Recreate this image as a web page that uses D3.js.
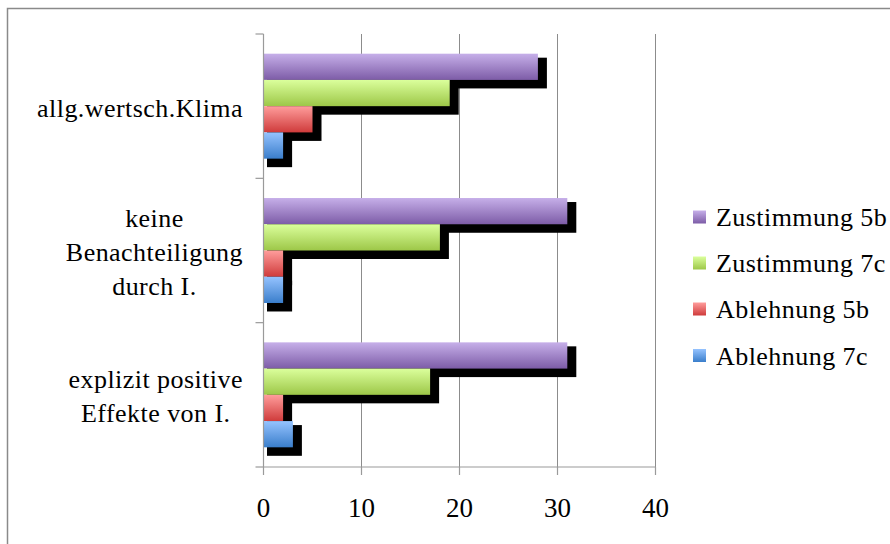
<!DOCTYPE html>
<html>
<head>
<meta charset="utf-8">
<script src="https://cdn.jsdelivr.net/npm/d3@7"></script>
<style>
  html, body { margin: 0; padding: 0; background: #fff; }
  svg { display: block; }
  text { font-family: "Liberation Serif", "DejaVu Serif", serif; fill: #000; }
</style>
</head>
<body>
<script>
// Categories (top to bottom) with their wrapped label lines
const categories = ["allg.wertsch.Klima", "keine Benachteiligung durch I.", "explizit positive Effekte von I."];
const categoryLines = [["allg.wertsch.Klima"], ["keine", "Benachteiligung", "durch I."], ["explizit positive", "Effekte von I."]];

const seriesNames = ["Zustimmung 5b", "Zustimmung 7c", "Ablehnung 5b", "Ablehnung 7c"];
const zustimmung5b = [28, 31, 31];
const zustimmung7c = [19, 18, 17];
const ablehnung5b  = [5, 2, 2];
const ablehnung7c  = [2, 2, 3];
const seriesValues = [zustimmung5b, zustimmung7c, ablehnung5b, ablehnung7c];

const xTicks = [0, 10, 20, 30, 40];

// Gradient stops (top, bottom) for each series
const seriesColors = [
  ["#c6afe9", "#7d5ca7"],
  ["#dbff9c", "#9dc748"],
  ["#ff9d9c", "#cf3b3b"],
  ["#95c3ff", "#3a7ecb"]
];

const W = 890, H = 544;
const FS = 26, LS = 0.45;
const svg = d3.select("body").append("svg").attr("width", W).attr("height", H);

const defs = svg.append("defs");
seriesColors.forEach((c, i) => {
  const g = defs.append("linearGradient").attr("id", "grad" + i)
    .attr("x1", 0).attr("y1", 0).attr("x2", 0).attr("y2", 1);
  g.append("stop").attr("offset", "0%").attr("stop-color", c[0]);
  g.append("stop").attr("offset", "100%").attr("stop-color", c[1]);
});

// Outer frame (top and left edges)
svg.append("path")
  .attr("d", `M7.5,${H} V8.5 H${W}`)
  .attr("fill", "none").attr("stroke", "#8a8a8a").attr("stroke-width", 1.5);

const x = d3.scaleLinear().domain([0, 40]).range([263.5, 655.5]);
const y = d3.scaleBand().domain(categories).range([34, 467]).paddingInner(0).paddingOuter(0);
const ySeries = d3.scaleBand().domain(d3.range(seriesNames.length))
  .range([0, y.bandwidth()]).paddingInner(0).paddingOuter(0.75);

// Vertical gridlines
svg.append("g").selectAll("line").data(xTicks.slice(1)).join("line")
  .attr("x1", d => x(d)).attr("x2", d => x(d))
  .attr("y1", 34).attr("y2", 467)
  .attr("stroke", "#8c8c8c").attr("stroke-width", 1);

// Bars data
const bars = [];
categories.forEach((cat, ci) => {
  seriesValues.forEach((vals, si) => {
    bars.push({ cat, si, v: vals[ci] });
  });
});

// Shadows first, then bars on top
svg.append("g").selectAll("rect").data(bars).join("rect")
  .attr("x", d => x(0) + 3.5)
  .attr("y", d => y(d.cat) + ySeries(d.si) + 4)
  .attr("width", d => x(d.v) - x(0) + 5.5)
  .attr("height", ySeries.bandwidth() + 4.5)
  .attr("fill", "#000");

svg.append("g").selectAll("rect").data(bars).join("rect")
  .attr("x", x(0))
  .attr("y", d => y(d.cat) + ySeries(d.si))
  .attr("width", d => x(d.v) - x(0))
  .attr("height", ySeries.bandwidth())
  .attr("fill", d => `url(#grad${d.si})`);

// Axes lines and ticks
const axisColor = "#9a9a9a";
const ax = svg.append("g").attr("stroke", axisColor).attr("stroke-width", 1.2);
ax.append("line").attr("x1", x(0)).attr("x2", x(0)).attr("y1", 34).attr("y2", 467);
ax.append("line").attr("x1", x(0)).attr("x2", x(40)).attr("y1", 467).attr("y2", 467);
const yEdges = categories.map(c => y(c)).concat([467]);
ax.selectAll(".yt").data(yEdges).join("line")
  .attr("x1", x(0) - 8).attr("x2", x(0)).attr("y1", d => d).attr("y2", d => d);
ax.selectAll(".xt").data(xTicks).join("line")
  .attr("x1", d => x(d)).attr("x2", d => x(d)).attr("y1", 467).attr("y2", 475);

// X tick labels
svg.append("g").selectAll("text").data(xTicks).join("text")
  .attr("x", d => x(d)).attr("y", 517)
  .attr("text-anchor", "middle").attr("font-size", 27)
  .text(d => d);

// Category labels: lines centered within a block right-aligned at x=243
const labelRight = 243, lineH = 34;
categories.forEach((cat, ci) => {
  const lines = categoryLines[ci];
  const g = svg.append("g");
  const cy = y(cat) + y.bandwidth() / 2;
  const ts = lines.map((ln, li) => g.append("text")
    .attr("y", cy + (li - (lines.length - 1) / 2) * lineH + 10.5)
    .attr("text-anchor", "middle").attr("font-size", FS)
    .attr("letter-spacing", LS).text(ln));
  const maxW = d3.max(ts, t => t.node().getComputedTextLength());
  ts.forEach(t => t.attr("x", labelRight - maxW / 2));
});

// Legend
const legend = svg.append("g");
const legendY = [217, 263, 309, 355.5];
seriesNames.forEach((name, i) => {
  legend.append("rect").attr("x", 693).attr("y", legendY[i] - 6.5)
    .attr("width", 13).attr("height", 13).attr("fill", `url(#grad${i})`);
  legend.append("text").attr("x", 716).attr("y", legendY[i] + 9)
    .attr("font-size", FS).attr("letter-spacing", LS).text(name);
});
</script>
</body>
</html>
